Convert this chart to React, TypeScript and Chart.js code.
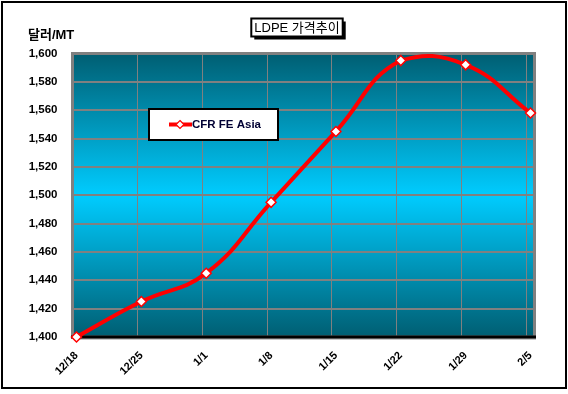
import React, { useEffect, useRef } from 'react';
import { Chart, registerables } from 'chart.js';

Chart.register(...registerables);

const categories = ['12/18', '12/25', '1/1', '1/8', '1/15', '1/22', '1/29', '2/5'];
const cfrFeAsia = [1400, 1425, 1445, 1495, 1545, 1595, 1592, 1558];
const seriesName = 'CFR FE Asia';
const chartTitle = 'LDPE 가격추이';
const yAxisTitle = '달러/MT';
const yMin = 1400;
const yMax = 1600;
const yStep = 20;

const FONT = '"Liberation Sans", "Noto Sans CJK KR", Arial, sans-serif';
const GRID_SHIFT = 0.0616;

const decorPlugin = {
  id: 'decor',
  beforeDraw(chart: any) {
    const { ctx, chartArea: a } = chart;
    ctx.save();
    ctx.fillStyle = '#ffffff';
    ctx.fillRect(0, 0, chart.width, chart.height);
    const g = ctx.createLinearGradient(0, a.top, 0, a.bottom);
    g.addColorStop(0, '#005E72');
    g.addColorStop(0.5, '#00CCFF');
    g.addColorStop(1, '#005E72');
    ctx.fillStyle = g;
    ctx.fillRect(a.left, a.top, a.right - a.left, a.bottom - a.top);
    ctx.restore();
  },
  beforeDatasetsDraw(chart: any) {
    const { ctx, chartArea: a } = chart;
    ctx.save();
    ctx.strokeStyle = '#808080';
    ctx.lineWidth = 3;
    ctx.strokeRect(a.left, a.top, a.right - a.left, a.bottom - a.top);
    ctx.strokeStyle = '#909090';
    ctx.lineWidth = 1;
    ctx.beginPath();
    ctx.moveTo(a.left + 2, a.bottom + 2);
    ctx.lineTo(a.right + 1.5, a.bottom + 2);
    ctx.stroke();
    ctx.strokeStyle = '#000000';
    ctx.lineWidth = 3;
    ctx.beginPath();
    ctx.moveTo(a.left - 1.5, a.bottom);
    ctx.lineTo(a.right + 1.5, a.bottom);
    ctx.stroke();
    ctx.restore();
  },
  afterDraw(chart: any) {
    const { ctx } = chart;
    ctx.save();
    // outer border
    ctx.strokeStyle = '#000000';
    ctx.lineWidth = 2;
    ctx.strokeRect(2, 2, 564, 386);

    // y-axis title
    ctx.fillStyle = '#000000';
    ctx.font = 'bold 13px ' + FONT;
    ctx.textAlign = 'left';
    ctx.textBaseline = 'middle';
    ctx.fillText(yAxisTitle, 28, 35);

    // chart title box
    ctx.font = '13px ' + FONT;
    const tw = ctx.measureText(chartTitle).width;
    const cx = 297;
    const cy = 28;
    const bx = cx - tw / 2 - 3;
    const by = 18.5;
    const bw = tw + 6;
    const bh = 18;
    ctx.fillStyle = '#000000';
    ctx.fillRect(bx + 3, by + 3, bw, bh);
    ctx.fillStyle = '#ffffff';
    ctx.fillRect(bx, by, bw, bh);
    ctx.lineWidth = 2;
    ctx.strokeStyle = '#000000';
    ctx.strokeRect(bx, by, bw, bh);
    ctx.fillStyle = '#000000';
    ctx.textAlign = 'center';
    ctx.fillText(chartTitle, cx, cy + 0.5);

    // legend box
    ctx.fillStyle = '#ffffff';
    ctx.fillRect(149, 109, 129, 31);
    ctx.lineWidth = 2;
    ctx.strokeStyle = '#000000';
    ctx.strokeRect(149, 109, 129, 31);
    ctx.strokeStyle = '#ff0000';
    ctx.lineWidth = 4;
    ctx.beginPath();
    ctx.moveTo(169, 124.5);
    ctx.lineTo(192, 124.5);
    ctx.stroke();
    ctx.beginPath();
    ctx.moveTo(180, 120.5);
    ctx.lineTo(184, 124.5);
    ctx.lineTo(180, 128.5);
    ctx.lineTo(176, 124.5);
    ctx.closePath();
    ctx.fillStyle = '#ffffff';
    ctx.fill();
    ctx.lineWidth = 1.2;
    ctx.stroke();
    ctx.fillStyle = '#000033';
    ctx.font = 'bold 11.5px ' + FONT;
    ctx.textAlign = 'left';
    ctx.textBaseline = 'middle';
    ctx.fillText(seriesName, 192, 125);
    ctx.restore();
  },
};

export default function App() {
  const ref = useRef<HTMLCanvasElement | null>(null);

  useEffect(() => {
    if (!ref.current) return;
    const chart = new Chart(ref.current, {
      type: 'line',
      data: {
        datasets: [
          {
            label: seriesName,
            data: cfrFeAsia.map((y, i) => ({ x: i, y })),
            borderColor: '#ff0000',
            borderWidth: 4,
            tension: 0.45,
            fill: false,
            pointStyle: 'rectRot',
            pointRadius: 5,
            pointBackgroundColor: '#ffffff',
            pointBorderColor: '#ff0000',
            pointBorderWidth: 1.5,
            clip: false as any,
          },
        ],
      },
      options: {
        responsive: false,
        animation: false,
        devicePixelRatio: 1,
        layout: { padding: { left: 0, top: 53.5, right: 33.5, bottom: 0 } },
        plugins: {
          legend: { display: false },
          title: { display: false },
          tooltip: { enabled: false },
        },
        scales: {
          x: {
            type: 'linear',
            position: 'bottom',
            min: -GRID_SHIFT,
            max: categories.length - 1 + GRID_SHIFT,
            afterBuildTicks: (scale: any) => {
              scale.ticks = categories.map((_, i) => ({ value: i }));
            },
            afterFit: (scale: any) => {
              scale.height = 57;
            },
            grid: {
              display: true,
              drawOnChartArea: false,
              drawTicks: true,
              tickLength: 8,
              color: 'rgba(0,0,0,0)',
            },
            border: { display: false },
            ticks: {
              autoSkip: false,
              maxRotation: 45,
              minRotation: 45,
              padding: 4,
              color: '#000000',
              font: { family: FONT, size: 11, weight: 'bold' },
              callback: (v: any) => categories[Math.round(Number(v))] ?? '',
            },
          },
          xg: {
            type: 'linear',
            position: 'top',
            min: -GRID_SHIFT,
            max: categories.length - 1 + GRID_SHIFT,
            afterBuildTicks: (scale: any) => {
              scale.ticks = categories.slice(1).map((_, i) => ({ value: i + 1 - GRID_SHIFT }));
            },
            afterFit: (scale: any) => {
              scale.height = 0;
            },
            grid: { color: '#808080', lineWidth: 1, drawTicks: false },
            border: { display: false },
            ticks: { display: false },
          },
          y: {
            type: 'linear',
            min: yMin,
            max: yMax,
            afterFit: (scale: any) => {
              scale.width = 72.5;
            },
            grid: { color: '#808080', lineWidth: 2, drawTicks: false },
            border: { display: false },
            ticks: {
              stepSize: yStep,
              padding: 15,
              color: '#000000',
              font: { family: FONT, size: 11.5, weight: 'bold' },
            },
          },
        } as any,
      },
      plugins: [decorPlugin],
    });
    return () => chart.destroy();
  }, []);

  return (
    <div style={{ position: 'fixed', left: 0, top: 0, width: 568, height: 394 }}>
      <canvas ref={ref} width={568} height={394} style={{ display: 'block' }} />
    </div>
  );
}
